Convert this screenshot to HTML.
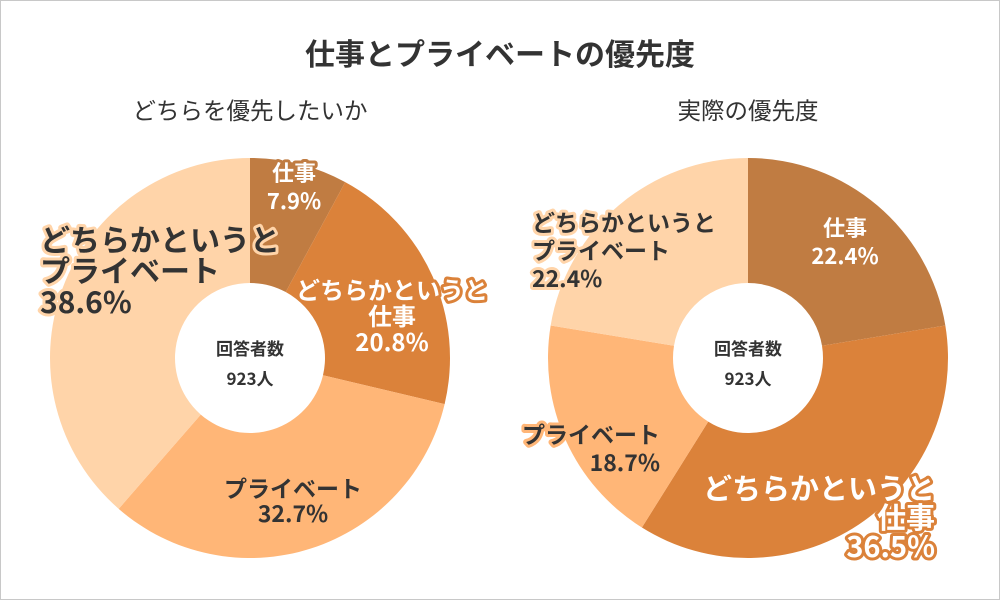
<!DOCTYPE html>
<html><head><meta charset="utf-8"><style>
html,body{margin:0;padding:0;background:#fff}
svg{display:block;font-family:"Noto Sans CJK JP","Liberation Sans",sans-serif}
</style></head><body>
<svg id="c" width="1000" height="600" viewBox="0 0 1000 600">
<rect x="0.5" y="0.5" width="999" height="599" fill="#fff" stroke="#c8c8c8"/>
<text x="500" y="65" text-anchor="middle" font-size="30" font-weight="bold" fill="#333">仕事とプライベートの優先度</text>
<text x="250" y="119" text-anchor="middle" font-size="23.5" fill="#333">どちらを優先したいか</text>
<text x="748" y="119" text-anchor="middle" font-size="23.5" fill="#333">実際の優先度</text>
<g id="slices"></g>
<g id="labels"></g>
</svg>
<script>
const categories = ["仕事","どちらかというと仕事","プライベート","どちらかというとプライベート"];
const wantValues = [7.9, 20.8, 32.7, 38.6];
const actualValues = [22.4, 36.5, 18.7, 22.4];
const respondents = 923;
const colors = ["#C07C42","#DB823A","#FFB677","#FFD4A9"];
const NS = "http://www.w3.org/2000/svg";
const sg = document.getElementById('slices');
const lg = document.getElementById('labels');
function arc(cx,cy,r,r0,a0,a1){
  const p=(rr,a)=>[cx+rr*Math.sin(a),cy-rr*Math.cos(a)];
  const big=(a1-a0)>Math.PI?1:0;
  const [x1,y1]=p(r,a0),[x2,y2]=p(r,a1),[x3,y3]=p(r0,a1),[x4,y4]=p(r0,a0);
  return `M${x1},${y1}A${r},${r} 0 ${big} 1 ${x2},${y2}L${x3},${y3}A${r0},${r0} 0 ${big} 0 ${x4},${y4}Z`;
}
function donut(cx,cy,vals,prefix){
  const tot=vals.reduce((a,b)=>a+b,0);let a=0;
  vals.forEach((v,i)=>{
    const a1=a+v/tot*2*Math.PI;
    const el=document.createElementNS(NS,'path');
    el.setAttribute('d',arc(cx,cy,200,75,a,a1));
    el.setAttribute('fill',colors[i]);
    
    
    sg.appendChild(el);a=a1;
  });
  const t1=document.createElementNS(NS,'text');
  t1.setAttribute('x',cx);t1.setAttribute('y',cy-3);t1.setAttribute('text-anchor','middle');
  t1.setAttribute('font-size','17');t1.setAttribute('font-weight','bold');t1.setAttribute('fill','#333');
  t1.textContent='回答者数';
  
  
  sg.appendChild(t1);
  const t2=document.createElementNS(NS,'text');
  t2.setAttribute('x',cx);t2.setAttribute('y',cy+27);t2.setAttribute('text-anchor','middle');
  t2.setAttribute('font-size','17');t2.setAttribute('font-weight','bold');t2.setAttribute('fill','#333');
  t2.textContent=respondents+'人';
  
  
  sg.appendChild(t2);
}
donut(250,358,wantValues,'want');
donut(748,358,actualValues,'actual');
function label(lines,x,y0,lh,size,anchor,ci,dark,name){
  const g=document.createElementNS(NS,'g');
  
  
  lines.forEach((s,k)=>{
    const t=document.createElementNS(NS,'text');
    t.setAttribute('x',x);t.setAttribute('y',y0+k*lh);t.setAttribute('text-anchor',anchor);
    t.setAttribute('font-size',size);t.setAttribute('font-weight','bold');
    t.setAttribute('fill',dark?'#333':'#fff');t.setAttribute('stroke',colors[ci]);
    t.setAttribute('stroke-width','6');t.setAttribute('paint-order','stroke');t.setAttribute('stroke-linejoin','round');
    t.textContent=s;g.appendChild(t);
  });
  lg.appendChild(g);
}
const w=wantValues.map(v=>v.toFixed(1)+'%'), r=actualValues.map(v=>v.toFixed(1)+'%');
label(['仕事',w[0]],294,181,28,22,'middle',0,false,'want-label-work');
label(['どちらかというと','仕事',w[1]],392,299,26,24,'middle',1,false,'want-label-rather-work');
label(['プライベート',w[2]],293,497,25,23,'middle',2,true,'want-label-private');
label(['どちらかというと','プライベート',w[3]],40,251,31,30,'start',3,true,'want-label-rather-private');
label(['仕事',r[0]],845,236,28,22,'middle',0,false,'actual-label-work');
label(['どちらかというと','仕事',r[1]],935,499,29,29,'end',1,false,'actual-label-rather-work');
label(['プライベート',r[2]],660,443,28,23,'end',2,true,'actual-label-private');
label(['どちらかというと','プライベート',r[3]],532,231,28,23,'start',3,true,'actual-label-rather-private');
</script>
</body></html>
